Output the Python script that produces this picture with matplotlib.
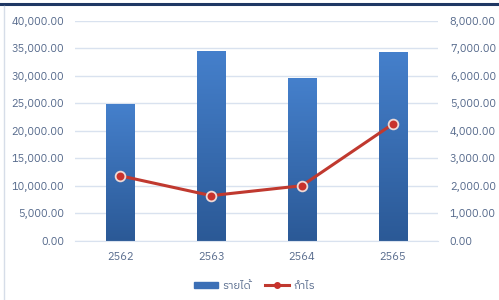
import numpy as np
import matplotlib
matplotlib.use("Agg")
import matplotlib.pyplot as plt
from matplotlib import font_manager
from matplotlib.ticker import FuncFormatter, MultipleLocator
from matplotlib.lines import Line2D
from matplotlib.patches import Patch

# data
years = ["2562", "2563", "2564", "2565"]
revenue = [24900, 34550, 29600, 34450]   # รายได้ (left axis)
profit = [2370, 1650, 2010, 4250]        # กำไร (right axis)

# find a font that can draw Thai
thai_fonts = sorted({f.name for f in font_manager.fontManager.ttflist if "Thai" in f.name})
families = thai_fonts[:1] + ["Liberation Sans", "DejaVu Sans"]
plt.rcParams["font.family"] = families

label_col = "#566a8c"
grid_col = "#d9e2ef"

fig = plt.figure(figsize=(4.99, 3.0), dpi=100)
ax = fig.add_axes([0.1503, 0.1967, 0.7275, 0.7333])
ax2 = ax.twinx()

x = np.arange(len(years))
bw = 0.31
bars = ax.bar(x, revenue, width=bw, color="#3b6fb6", zorder=2)

# vertical gradient inside each bar
grad = np.linspace(0, 1, 256).reshape(-1, 1)
cmap = matplotlib.colors.LinearSegmentedColormap.from_list("b", ["#2b5996", "#4580cc"])
for b in bars:
    bx, by = b.get_x(), b.get_y()
    im = ax.imshow(grad, extent=[bx, bx + b.get_width(), by, by + b.get_height()],
                   origin="lower", aspect="auto", cmap=cmap, zorder=2.1)
    im.set_clip_path(b)

ax.set_xlim(-0.5, len(years) - 0.5)
ax.set_ylim(0, 40000)
ax2.set_ylim(0, 8000)
ax.yaxis.set_major_locator(MultipleLocator(5000))
ax2.yaxis.set_major_locator(MultipleLocator(1000))
fmt = FuncFormatter(lambda v, p: f"{v:,.2f}")
ax.yaxis.set_major_formatter(fmt)
ax2.yaxis.set_major_formatter(fmt)

ax.grid(axis="y", color=grid_col, linewidth=1, zorder=0)
ax.set_axisbelow(True)
for a in (ax, ax2):
    for s in a.spines.values():
        s.set_visible(False)
    a.tick_params(length=0, colors=label_col, labelsize=8)
ax.spines["bottom"].set_visible(True)
ax.spines["bottom"].set_color(grid_col)
ax.set_xticks(x)
ax.set_xticklabels(years)
ax.tick_params(axis="x", pad=8)
ax.tick_params(axis="y", pad=8)
ax2.tick_params(axis="y", pad=8.5)

ax2.plot(x, profit, color="#c0392f", linewidth=2.2, marker="o", markersize=7,
         markerfacecolor="#c8322c", markeredgecolor="#eed9d6", markeredgewidth=1.3, zorder=3)

handles = [Patch(color="#3b6fb6", label="รายได้"),
           Line2D([0], [0], color="#c0392f", linewidth=2.2, marker="o", markersize=4,
                  markerfacecolor="#c8322c", markeredgecolor="#c8322c", label="กำไร")]
fig.legend(handles=handles, loc="center", bbox_to_anchor=(0.51, 0.047), ncol=2,
           frameon=False, fontsize=8, labelcolor=label_col, handlelength=2.2,
           handleheight=0.5, columnspacing=1.2, handletextpad=0.4)

# frame bits around the chart
fig.add_artist(Line2D([0, 1], [0.988, 0.988], color="#1f3864", linewidth=2.2))
fig.add_artist(Line2D([0.008, 0.008], [0, 0.98], color="#d6dde8", linewidth=1))

fig.savefig("out.png", dpi=100)
